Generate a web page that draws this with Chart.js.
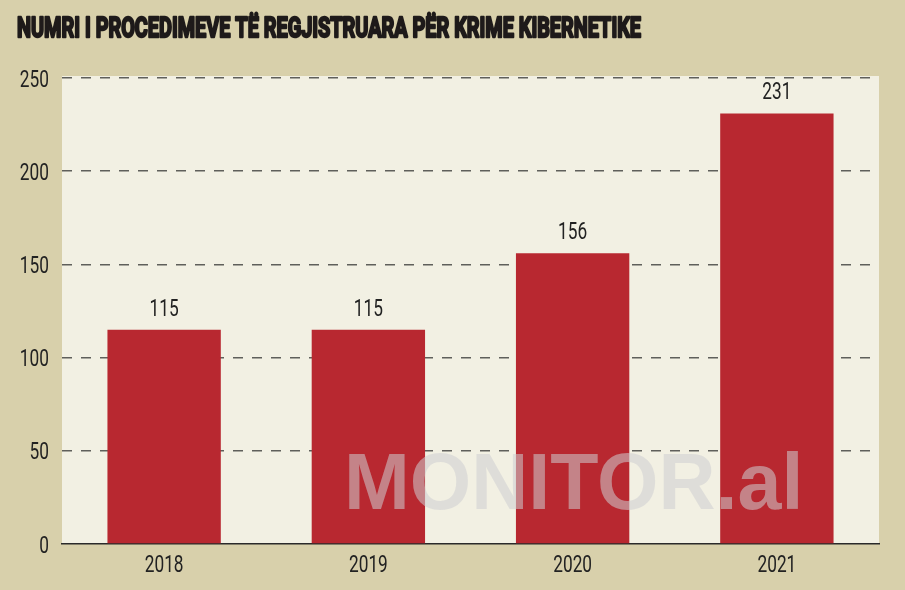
<!DOCTYPE html>
<html>
<head>
<meta charset="utf-8">
<script src="https://cdn.jsdelivr.net/npm/chart.js@4.4.0/dist/chart.umd.min.js"></script>
<style>
  html, body { margin: 0; padding: 0; background: #d8d0ab; }
  #wrap { width: 905px; height: 590px; position: relative; }
</style>
</head>
<body>
<div id="wrap"><canvas id="myChart" width="905" height="590"></canvas></div>
<script>
const years = ["2018", "2019", "2020", "2021"];
const procedures = [115, 115, 156, 231];
const yTicks = [0, 50, 100, 150, 200, 250];
const titleText = "NUMRI I PROCEDIMEVE TË REGJISTRUARA PËR KRIME KIBERNETIKE";
const watermarkText = "MONITOR.al";

const labelFont = "24px Roboto, 'DejaVu Sans', sans-serif";
const squeeze = 0.72; // narrow look of the original digits

// draw text squeezed horizontally around its anchor
function narrowText(ctx, text, x, y, align) {
  ctx.save();
  ctx.translate(x, y);
  ctx.scale(squeeze, 1);
  ctx.textAlign = align;
  ctx.fillText(text, 0, 0);
  ctx.restore();
}

// background, title and plot area fill
const backdrop = {
  id: "backdrop",
  beforeDraw(chart) {
    const ctx = chart.ctx;
    const a = chart.chartArea;
    ctx.save();
    ctx.fillStyle = "#d8d0ab";
    ctx.fillRect(0, 0, chart.width, chart.height);
    ctx.fillStyle = "#f2f0e3";
    ctx.fillRect(a.left, a.top - 2, a.right - a.left, a.bottom - a.top + 2);

    // title, squeezed to the width of the original
    ctx.font = "bold 28px Roboto, 'DejaVu Sans', sans-serif";
    ctx.textBaseline = "alphabetic";
    ctx.fillStyle = "#1e1a1a";
    ctx.strokeStyle = "#1e1a1a";
    ctx.lineWidth = 2.4;
    ctx.lineJoin = "round";
    const w = ctx.measureText(titleText).width;
    ctx.translate(17, 37);
    ctx.scale(624 / w, 1);
    ctx.fillText(titleText, 0, 0);
    ctx.strokeText(titleText, 0, 0);
    ctx.restore();
  },
};

// tick labels, value labels and watermark
const overlay = {
  id: "overlay",
  afterDatasetsDraw(chart) {
    const ctx = chart.ctx;
    const meta = chart.getDatasetMeta(0);
    const yScale = chart.scales.y;
    const xScale = chart.scales.x;
    ctx.save();
    ctx.font = labelFont;
    ctx.fillStyle = "#222";
    ctx.textBaseline = "alphabetic";

    yTicks.forEach((v) => {
      narrowText(ctx, String(v), 49, yScale.getPixelForValue(v) + 8.5, "right");
    });
    years.forEach((y, i) => {
      narrowText(ctx, y, xScale.getPixelForValue(i), 572, "center");
    });
    meta.data.forEach((bar, i) => {
      narrowText(ctx, String(procedures[i]), bar.x, bar.y - 14, "center");
    });

    ctx.font = "bold 79px 'Liberation Sans', Arial, sans-serif";
    ctx.fillStyle = "rgba(206, 206, 210, 0.55)";
    ctx.textAlign = "left";
    ctx.fillText(watermarkText, 344, 509);
    ctx.restore();
  },
};

const config = {
  type: "bar",
  data: {
    labels: years,
    datasets: [
      {
        data: procedures,
        backgroundColor: "#b82830",
        borderWidth: 0,
        barPercentage: 0.555,
        categoryPercentage: 1,
      },
    ],
  },
  options: {
    responsive: false,
    animation: false,
    layout: { padding: { left: 0, right: 26, top: 78, bottom: 0 } },
    plugins: {
      legend: { display: false },
      tooltip: { enabled: false },
      title: { display: false },
    },
    scales: {
      x: {
        grid: { display: false, drawTicks: false },
        border: { display: true, color: "#2a2a2a", width: 1.5 },
        ticks: { display: false },
        afterFit(scale) { scale.height = 46; },
      },
      y: {
        min: 0,
        max: 250,
        afterBuildTicks(scale) { scale.ticks = yTicks.map((v) => ({ value: v })); },
        grid: {
          drawTicks: false,
          color: (c) => (c.tick.value === 0 ? "rgba(0,0,0,0)" : "#5f5f5b"),
          lineWidth: 1.5,
        },
        border: { display: false, dash: [10, 9] },
        ticks: { display: false },
        afterFit(scale) { scale.width = 62; },
      },
    },
  },
  plugins: [backdrop, overlay],
};

new Chart(document.getElementById("myChart"), config);
</script>
</body>
</html>
